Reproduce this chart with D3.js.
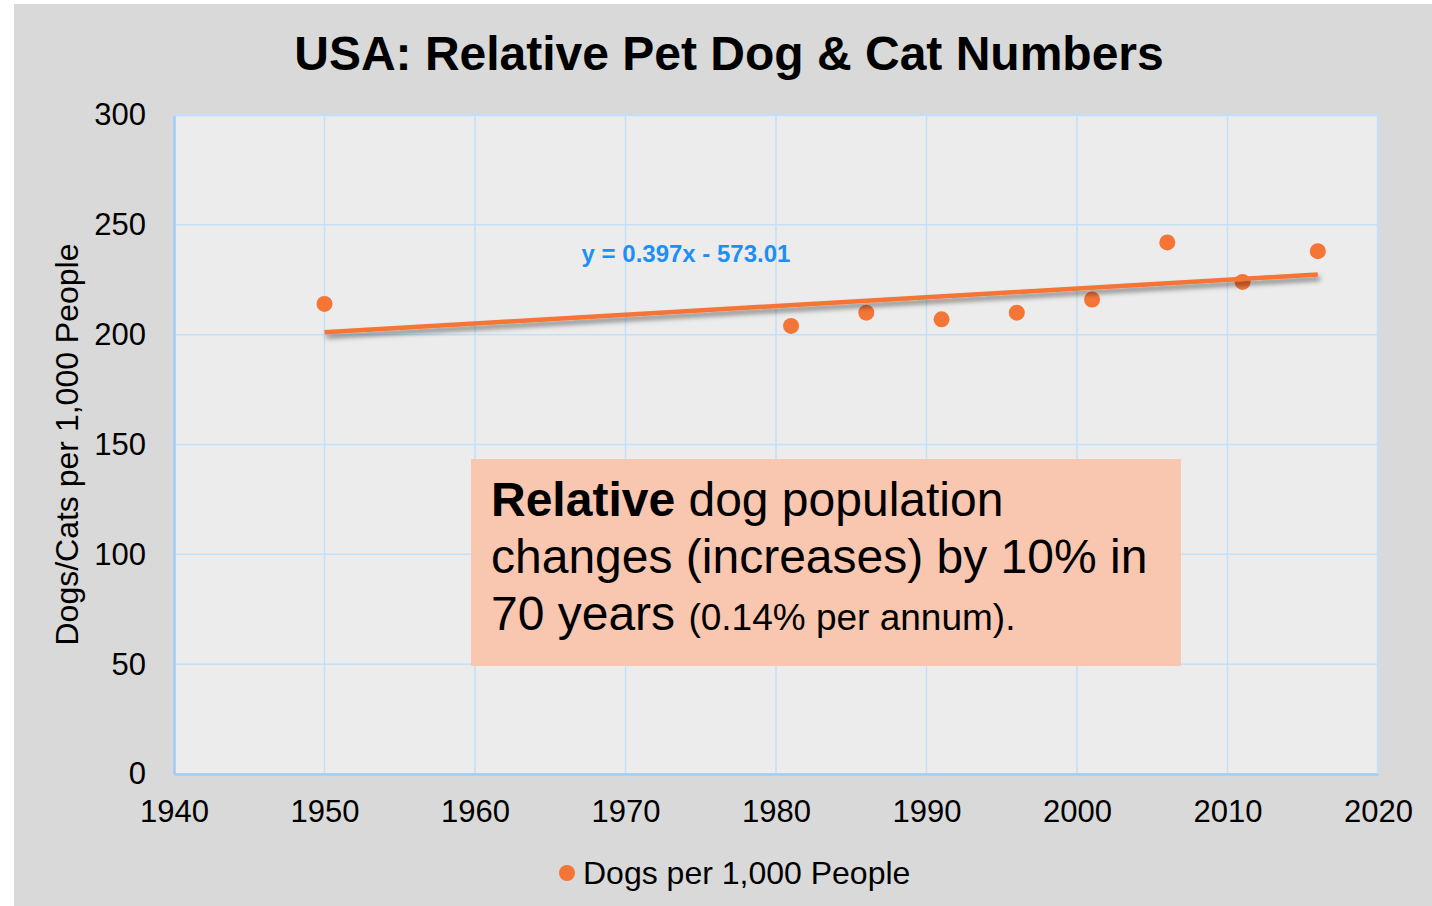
<!DOCTYPE html>
<html>
<head>
<meta charset="utf-8">
<script src="https://cdn.jsdelivr.net/npm/d3@7/dist/d3.min.js"></script>
<style>
  html, body { margin: 0; padding: 0; background: #ffffff; }
  svg { display: block; font-family: "Liberation Sans", Arial, sans-serif; }
</style>
</head>
<body>
<svg id="chart" width="1432" height="906"></svg>
<script>
// Survey years and dogs per 1,000 people
const years = [1950, 1981, 1986, 1991, 1996, 2001, 2006, 2011, 2016];
const dogsPer1000 = [214, 204, 210, 207, 210, 216, 242, 224, 238];

// Linear trendline coefficients (y = slope * x + intercept)
const trendSlope = 0.397;
const trendIntercept = -573.01;
const trendYears = [1950, 2016];

const xTicks = [1940, 1950, 1960, 1970, 1980, 1990, 2000, 2010, 2020];
const yTicks = [0, 50, 100, 150, 200, 250, 300];

const titleText = "USA: Relative Pet Dog & Cat Numbers";
const yAxisTitle = "Dogs/Cats per 1,000 People";
const legendLabel = "Dogs per 1,000 People";
const equationLabel = "y = 0.397x - 573.01";

const svg = d3.select("#chart");
const W = 1432, H = 906;

// Chart background
svg.append("rect").attr("x", 0).attr("y", 0).attr("width", W).attr("height", H).attr("fill", "#ffffff");
svg.append("rect").attr("x", 14).attr("y", 4).attr("width", W - 14).attr("height", H - 4).attr("fill", "#d9d9d9");

const plot = { left: 174, right: 1378, top: 115, bottom: 774 };

const x = d3.scaleLinear().domain([1940, 2020]).range([plot.left, plot.right]);
const y = d3.scaleLinear().domain([0, 300]).range([plot.bottom, plot.top]);

// Plot area
svg.append("rect")
  .attr("x", plot.left).attr("y", plot.top)
  .attr("width", plot.right - plot.left).attr("height", plot.bottom - plot.top)
  .attr("fill", "#ececec");

const gridColor = "#c4dff6";

// Gridlines
svg.append("g")
  .selectAll("line.vg")
  .data(xTicks)
  .join("line")
  .attr("x1", d => x(d)).attr("x2", d => x(d))
  .attr("y1", plot.top).attr("y2", plot.bottom)
  .attr("stroke", gridColor).attr("stroke-width", 1.5);

svg.append("g")
  .selectAll("line.hg")
  .data(yTicks)
  .join("line")
  .attr("x1", plot.left).attr("x2", plot.right)
  .attr("y1", d => y(d)).attr("y2", d => y(d))
  .attr("stroke", gridColor).attr("stroke-width", 1.5);

// Axes (labels only, lines provided by the grid)
const xAxis = d3.axisBottom(x).tickValues(xTicks).tickFormat(d3.format("d")).tickSize(0).tickPadding(26);
const gx = svg.append("g").attr("transform", `translate(0,${plot.bottom})`).call(xAxis);
gx.select(".domain").attr("stroke", "#9fcdf3").attr("stroke-width", 2.5);
gx.selectAll("text").attr("font-size", 31).attr("fill", "#000").attr("font-family", "Liberation Sans, Arial, sans-serif");

const yAxis = d3.axisLeft(y).tickValues(yTicks).tickSize(0).tickPadding(28);
const gy = svg.append("g").attr("transform", `translate(${plot.left},0)`).call(yAxis);
gy.select(".domain").attr("stroke", "#9fcdf3").attr("stroke-width", 2.5);
gy.selectAll("text").attr("font-size", 31).attr("fill", "#000").attr("font-family", "Liberation Sans, Arial, sans-serif");

// Top and right edges of plot
svg.append("line").attr("x1", plot.left).attr("x2", plot.right).attr("y1", plot.top).attr("y2", plot.top)
  .attr("stroke", gridColor).attr("stroke-width", 2.5);
svg.append("line").attr("x1", plot.right).attr("x2", plot.right).attr("y1", plot.top).attr("y2", plot.bottom)
  .attr("stroke", gridColor).attr("stroke-width", 2.5);

// Title
svg.append("text")
  .attr("x", 729).attr("y", 70)
  .attr("text-anchor", "middle")
  .attr("font-size", 48).attr("font-weight", "bold").attr("fill", "#000")
  .text(titleText);

// Y axis title
svg.append("text")
  .attr("transform", `translate(78,${(plot.top + plot.bottom) / 2 + 0}) rotate(-90)`)
  .attr("text-anchor", "middle")
  .attr("font-size", 32).attr("fill", "#000")
  .text(yAxisTitle);

const orange = "#f47535";

// Shadow filter for the trendline
const defs = svg.append("defs");
const f = defs.append("filter").attr("id", "shadow").attr("x", "-5%").attr("y", "-200%").attr("width", "110%").attr("height", "500%");
f.append("feDropShadow").attr("dx", 2).attr("dy", 4).attr("stdDeviation", 2.5).attr("flood-color", "#000").attr("flood-opacity", 0.45);

// Scatter points
svg.append("g")
  .selectAll("circle")
  .data(years.map((yr, i) => ({ yr, v: dogsPer1000[i] })))
  .join("circle")
  .attr("cx", d => x(d.yr)).attr("cy", d => y(d.v))
  .attr("r", 8)
  .attr("fill", orange);

// Trendline
const line = d3.line().x(d => x(d)).y(d => y(trendSlope * d + trendIntercept));
svg.append("path")
  .datum(trendYears)
  .attr("d", line)
  .attr("fill", "none")
  .attr("stroke", orange)
  .attr("stroke-width", 4.5)
  .attr("filter", "url(#shadow)");

// Trendline equation
svg.append("text")
  .attr("x", 686).attr("y", 262)
  .attr("text-anchor", "middle")
  .attr("font-size", 24).attr("font-weight", "bold").attr("fill", "#1e8ff4")
  .text(equationLabel);

// Annotation box
svg.append("rect")
  .attr("x", 471).attr("y", 459).attr("width", 710).attr("height", 207)
  .attr("fill", "#f9c6af");

const ann = svg.append("text").attr("font-size", 48).attr("fill", "#000");
const l1 = ann.append("tspan").attr("x", 491).attr("y", 516);
l1.append("tspan").attr("font-weight", "bold").text("Relative");
l1.append("tspan").text(" dog population");
ann.append("tspan").attr("x", 491).attr("y", 573).text("changes (increases) by 10% in");
const l3 = ann.append("tspan").attr("x", 491).attr("y", 630);
l3.append("tspan").text("70 years ");
l3.append("tspan").attr("font-size", 37).text("(0.14% per annum).");

// Legend
svg.append("circle").attr("cx", 567).attr("cy", 873).attr("r", 8).attr("fill", orange);
svg.append("text")
  .attr("x", 583).attr("y", 884)
  .attr("font-size", 32).attr("fill", "#000")
  .text(legendLabel);
</script>
</body>
</html>
